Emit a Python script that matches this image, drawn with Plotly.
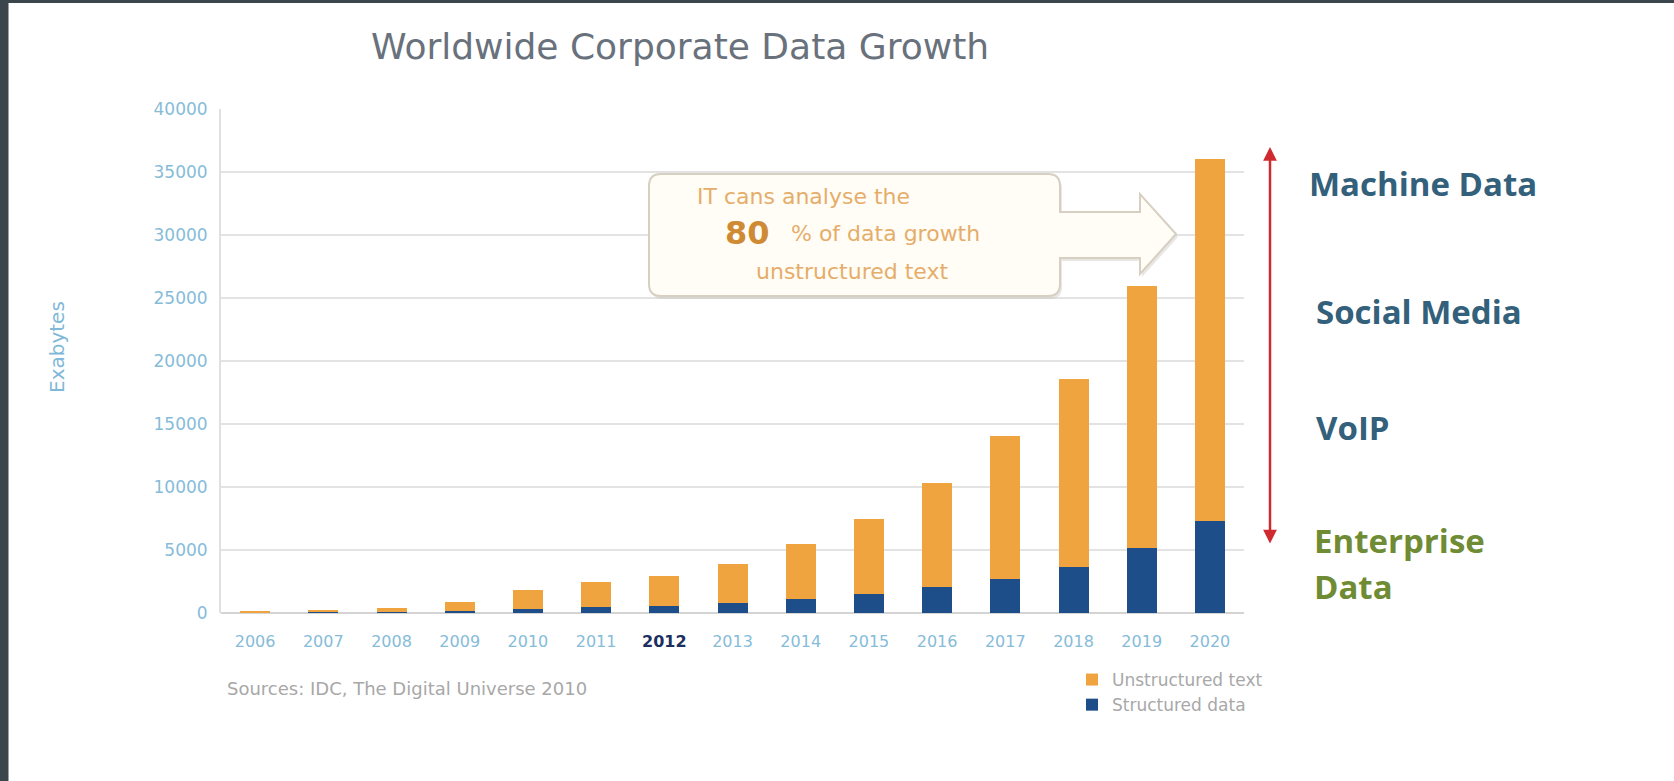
import plotly.graph_objects as go

# ---------------- data ----------------
years = ["2006", "2007", "2008", "2009", "2010", "2011", "2012", "2013",
         "2014", "2015", "2016", "2017", "2018", "2019", "2020"]
structured = [30, 50, 80, 150, 340, 500, 590, 760, 1100, 1520, 2030, 2710, 3640, 5170, 7300]
unstructured = [70, 200, 320, 750, 1510, 1950, 2310, 3150, 4340, 5950, 8320, 11300, 14900, 20800, 28700]
y_ticks = [0, 5000, 10000, 15000, 20000, 25000, 30000, 35000, 40000]
highlight_year = "2012"

title_text = "Worldwide Corporate Data Growth"
y_title = "Exabytes"
source_text = "Sources: IDC, The Digital Universe 2010"
callout_lines = ["IT cans analyse the", "80", "% of data growth", "unstructured text"]
side_labels = ["Machine Data", "Social Media", "VoIP", "Enterprise", "Data"]
legend_names = ["Structured data", "Unstructured text"]

# ---------------- geometry helpers ----------------
W, H = 1674, 781
L, R = 221, 1244          # plot area px
T, B = 109, 613
PW, PH = R - L, B - T

def px(x):
    return (x - L) / PW

def py(y):
    return (B - y) / PH

ORANGE = "#F0A440"
BLUE = "#1D4E89"
TICK_BLUE = "#86bcd9"

fig = go.Figure()
fig.add_trace(go.Bar(x=years, y=structured, name=legend_names[0],
                     marker=dict(color=BLUE, line=dict(width=0))))
fig.add_trace(go.Bar(x=years, y=unstructured, name=legend_names[1],
                     marker=dict(color=ORANGE, line=dict(width=0))))

ticktext = [f"<b><span style='color:#1d2f5e'>{y}</span></b>" if y == highlight_year else y
            for y in years]

shapes = []
# dark frame strips
shapes.append(dict(type="rect", xref="paper", yref="paper", x0=px(0), x1=px(8.5),
                   y0=py(H), y1=py(0), fillcolor="#3a464c", line=dict(width=0), layer="below"))
shapes.append(dict(type="rect", xref="paper", yref="paper", x0=px(0), x1=px(W),
                   y0=py(3), y1=py(0), fillcolor="#3a464c", line=dict(width=0), layer="below"))

# callout box with arrow
bx0, bx1, by0, by1, r = 649, 1060, 174, 296, 12
sh0, sh1, hx, tipx, tipy, hy0, hy1 = 212, 258, 1140, 1176, 234, 194, 274

def make_path(dx=0, dy=0):
    def P(x, y):
        return f"{px(x + dx):.5f},{py(y + dy):.5f}"
    return (
        f"M {P(bx0 + r, by0)} L {P(bx1 - r, by0)} Q {P(bx1, by0)} {P(bx1, by0 + r)} "
        f"L {P(bx1, sh0)} L {P(hx, sh0)} L {P(hx, hy0)} L {P(tipx, tipy)} L {P(hx, hy1)} "
        f"L {P(hx, sh1)} L {P(bx1, sh1)} L {P(bx1, by1 - r)} Q {P(bx1, by1)} {P(bx1 - r, by1)} "
        f"L {P(bx0 + r, by1)} Q {P(bx0, by1)} {P(bx0, by1 - r)} L {P(bx0, by0 + r)} "
        f"Q {P(bx0, by0)} {P(bx0 + r, by0)} Z"
    )

shapes.append(dict(type="path", xref="paper", yref="paper", path=make_path(2, 3),
                   fillcolor="rgba(190,185,175,0.35)", line=dict(width=0)))
shapes.append(dict(type="path", xref="paper", yref="paper", path=make_path(),
                   fillcolor="#fffdf6", line=dict(color="#d6cfc2", width=2)))

annotations = []
# y axis title
annotations.append(dict(xref="paper", yref="paper", x=px(57), y=py(347), text=y_title,
                        textangle=-90, showarrow=False, xanchor="center", yanchor="middle",
                        font=dict(family="DejaVu Sans", size=20, color="#7fb8d8")))
# source
annotations.append(dict(xref="paper", yref="paper", x=px(225), y=py(688), text=source_text,
                        xanchor="left", yanchor="middle", showarrow=False,
                        font=dict(family="DejaVu Sans", size=18, color="#a8a8a8")))
# callout text
cfont = dict(family="DejaVu Sans", size=22, color="#e6ad6a")
annotations.append(dict(xref="paper", yref="paper", x=px(696), y=py(196), text=callout_lines[0],
                        xanchor="left", yanchor="middle", showarrow=False, font=cfont,
                        borderpad=0))
annotations.append(dict(xref="paper", yref="paper", x=px(724), y=py(233), text=f"<b>{callout_lines[1]}</b>",
                        xanchor="left", yanchor="middle", showarrow=False, borderpad=0,
                        font=dict(family="DejaVu Sans", size=32, color="#cf8a34")))
annotations.append(dict(xref="paper", yref="paper", x=px(790), y=py(233), text=callout_lines[2],
                        xanchor="left", yanchor="middle", showarrow=False, font=cfont,
                        borderpad=0))
annotations.append(dict(xref="paper", yref="paper", x=px(755), y=py(271), text=callout_lines[3],
                        xanchor="left", yanchor="middle", showarrow=False, font=cfont,
                        borderpad=0))
# red double arrow
annotations.append(dict(xref="paper", yref="paper", x=px(1270), y=py(147), ax=0, ay=545 - 147,
                        text="", showarrow=True, arrowside="end+start", arrowhead=2,
                        arrowsize=1.1, arrowwidth=2.5, arrowcolor="#cf2a2f"))
# side labels
side_pos = [(1307, 183, "#33607a"), (1314, 311, "#33607a"), (1314, 427, "#33607a"),
            (1312, 540, "#6f8c35"), (1312, 586, "#6f8c35")]
for txt, (x, y, c) in zip(side_labels, side_pos):
    annotations.append(dict(xref="paper", yref="paper", x=px(x), y=py(y), text=f"<b>{txt}</b>",
                            xanchor="left", yanchor="middle", align="left", showarrow=False,
                            font=dict(family="Open Sans", size=33, color=c)))

fig.update_layout(
    width=W, height=H,
    margin=dict(l=L, r=W - R, t=T, b=H - B, pad=0),
    paper_bgcolor="white", plot_bgcolor="white",
    barmode="stack", bargap=0.56,
    title=dict(text=title_text, x=680 / W, xanchor="center", y=1 - 46 / H, yanchor="middle",
               font=dict(family="DejaVu Sans", size=36, color="#68717c")),
    xaxis=dict(type="category", tickvals=years, ticktext=ticktext, showgrid=False,
               ticks="", ticklabelstandoff=17, showline=False,
               tickfont=dict(family="DejaVu Sans", size=16, color=TICK_BLUE)),
    yaxis=dict(range=[0, 40000], tickvals=y_ticks, tickformat="d", showgrid=True,
               gridcolor="#e3e3e3", gridwidth=2, zeroline=True, zerolinecolor="#d4d4d4",
               zerolinewidth=2, showline=True, linecolor="#e0e0e0", linewidth=2,
               ticks="", ticklabelstandoff=8,
               tickfont=dict(family="DejaVu Sans", size=17, color=TICK_BLUE)),
    legend=dict(x=px(1072), y=py(662), xanchor="left", yanchor="top", traceorder="reversed",
                bgcolor="rgba(0,0,0,0)", font=dict(family="DejaVu Sans", size=17, color="#a8a8a8"),
                itemwidth=30),
    shapes=shapes, annotations=annotations,
)

fig.write_html("out.html", config={"displayModeBar": False},
               post_script="document.body.style.margin='0';")
